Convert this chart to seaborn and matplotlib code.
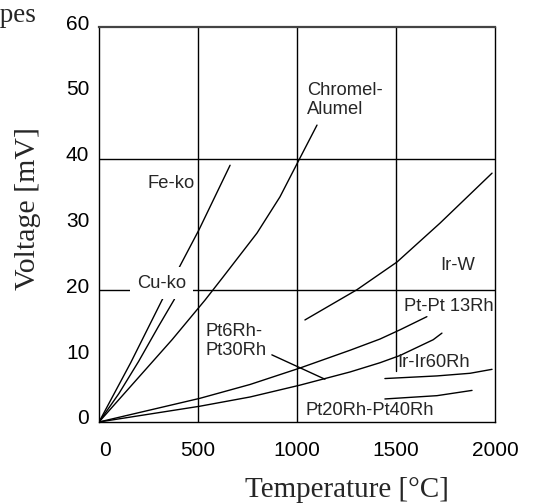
import matplotlib
matplotlib.use("Agg")
import matplotlib.pyplot as plt
import matplotlib.transforms as mtransforms
import seaborn as sns

# ---------------- data ----------------
fe_ko_t = [0, 160, 318, 505, 662]
fe_ko_v = [0, 9.0, 18.5, 29.2, 39.0]

cu_ko_t = [0, 100, 200, 300, 380, 412]
cu_ko_v = [0, 4.3, 9.2, 14.5, 18.6, 21.2]

chromel_t = [0, 369, 535, 626, 798, 914, 1015, 1101]
chromel_v = [0, 12.5, 18.5, 22.0, 28.7, 34.2, 40.1, 45.1]

ir_w_t = [1040, 1303, 1505, 1722, 1985]
ir_w_v = [15.5, 20.1, 24.3, 30.2, 37.8]

pt_pt13rh_t = [0, 510, 763, 1015, 1268, 1419, 1520, 1656]
pt_pt13rh_v = [0, 3.6, 5.7, 8.2, 10.9, 12.6, 14.0, 16.0]

pt6_pt30_t = [0, 510, 763, 1015, 1268, 1419, 1520, 1688, 1732]
pt6_pt30_v = [0, 2.4, 3.8, 5.6, 7.6, 9.0, 10.1, 12.5, 13.5]

ir_ir60_t = [1444, 1707, 1874, 1985]
ir_ir60_v = [6.6, 7.0, 7.4, 8.0]

pt20_pt40_t = [1444, 1707, 1884]
pt20_pt40_v = [3.5, 4.0, 4.8]

x_ticks = [0, 500, 1000, 1500, 2000]
y_ticks = [0, 10, 20, 30, 40, 50, 60]
x_grid = [500, 1000, 1500]
y_grid = [20, 40]

series = [
    (fe_ko_t, fe_ko_v),
    (cu_ko_t, cu_ko_v),
    (chromel_t, chromel_v),
    (ir_w_t, ir_w_v),
    (pt_pt13rh_t, pt_pt13rh_v),
    (pt6_pt30_t, pt6_pt30_v),
    (ir_ir60_t, ir_ir60_v),
    (pt20_pt40_t, pt20_pt40_v),
]

# ---------------- style ----------------
sns.set_style("white")
plt.rcParams["font.family"] = ["Liberation Sans", "DejaVu Sans"]
SERIF = ["Liberation Serif", "DejaVu Serif"]

fig = plt.figure(figsize=(5.49, 5.04), dpi=100)
ax = fig.add_axes([99 / 549, 1 - 422 / 504, 396 / 549, 395 / 504])

# grid (hand-drawn style in the reference: 1500 line stops short)
for gx in x_grid:
    ymin = 7.8 / 60 if gx == 1500 else 0
    ax.axvline(gx, ymin=ymin, ymax=1, color="black", lw=1.0, zorder=1)
for gy in y_grid:
    ax.axhline(gy, color="black", lw=1.0, zorder=1)

for t, v in series:
    sns.lineplot(x=t, y=v, ax=ax, color="black", lw=1.0, sort=False,
                 estimator=None, zorder=2)

# leader line for the Pt6Rh-Pt30Rh label
ax.plot([873, 1141], [10.2, 6.5], color="black", lw=1.0, zorder=2)

ax.set_xlim(0, 2000)
ax.set_ylim(0, 60)
ax.set_xticks(x_ticks)
ax.set_yticks(y_ticks)
ax.set_xticklabels([str(v) for v in x_ticks])
ax.set_yticklabels([str(v) for v in y_ticks])
ax.tick_params(axis="both", length=0, labelsize=15, colors="black")
ax.tick_params(axis="x", pad=14)
ax.tick_params(axis="y", pad=7)

# small offsets of the reference's tick labels
x_label_shift_px = [6, 0, 0, 0, 0]
for lab, dx in zip(ax.get_xticklabels(), x_label_shift_px):
    lab.set_transform(lab.get_transform() +
                      mtransforms.ScaledTranslation(dx / 100, 0, fig.dpi_scale_trans))
for lab in ax.get_yticklabels():
    lab.set_transform(lab.get_transform() +
                      mtransforms.ScaledTranslation(0, 5 / 100, fig.dpi_scale_trans))

for side in ["left", "right", "bottom"]:
    ax.spines[side].set_color("black")
    ax.spines[side].set_linewidth(1.0)
ax.spines["top"].set_color("#444444")
ax.spines["top"].set_linewidth(1.6)

ax.set_xlabel("Temperature [°C]", family=SERIF, fontsize=21)
ax.xaxis.label.set_va("baseline")
ax.xaxis.set_label_coords((347 - 99) / 396, (422 - 497) / 395)
ax.set_ylabel("Voltage [mV]", family=SERIF, fontsize=21.5)
ax.yaxis.label.set_va("center")
ax.yaxis.set_label_coords((28 - 99) / 396, (422 - 208) / 395)

fig.text(36 / 549, 1 - 22 / 504, "Thermocouple types", family=SERIF,
         fontsize=19.5, ha="right", va="baseline")

# curve labels
lab_kw = dict(fontsize=13.2, ha="left", va="center", zorder=3)
ax.text(247, 36.3, "Fe-ko", **lab_kw)
ax.text(192, 21.1, "Cu-ko",
        bbox=dict(boxstyle="square,pad=0.4", fc="white", ec="none"), **lab_kw)
ax.text(1050, 48.9, "Chromel-\nAlumel", linespacing=1.2, **lab_kw)
ax.text(540, 12.3, "Pt6Rh-\nPt30Rh", linespacing=1.2, **lab_kw)
ax.text(1722, 23.8, "Ir-W", **lab_kw)
ax.text(1540, 17.5, "Pt-Pt 13Rh", **lab_kw)
ax.text(1505, 9.0, "Ir-Ir60Rh", **lab_kw)
ax.text(1045, 1.7, "Pt20Rh-Pt40Rh", **lab_kw)

fig.savefig("out.png", dpi=100)
